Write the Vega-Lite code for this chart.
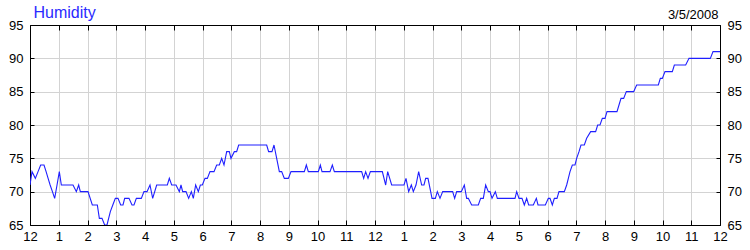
{
  "$schema": "https://vega.github.io/schema/vega-lite/v6.json",
  "width": 690,
  "height": 200,
  "autosize": "none",
  "padding": {"left": 30, "top": 25, "right": 30, "bottom": 25},
  "background": "white",
  "config": {
    "view": {"stroke": null},
    "axis": {
      "labelFont": "Liberation Sans",
      "labelFontSize": 13,
      "labelColor": "#000000",
      "domainColor": "#000000",
      "tickColor": "#000000",
      "gridColor": "#d3d3d3",
      "gridOpacity": 1,
      "labelFlush": false,
      "labelOverlap": false
    }
  },
  "data": {"values": [
    {"h": 0, "v": 71}, {"h": 0.07, "v": 73}, {"h": 0.186, "v": 72}, {"h": 0.28, "v": 73}, {"h": 0.371, "v": 74},
    {"h": 0.487, "v": 74}, {"h": 0.56, "v": 73}, {"h": 0.63, "v": 72}, {"h": 0.7, "v": 71}, {"h": 0.78, "v": 70},
    {"h": 0.858, "v": 69}, {"h": 0.94, "v": 71}, {"h": 1.02, "v": 73}, {"h": 1.09, "v": 71}, {"h": 1.496, "v": 71},
    {"h": 1.612, "v": 70}, {"h": 1.693, "v": 71}, {"h": 1.751, "v": 70}, {"h": 2.017, "v": 70}, {"h": 2.168, "v": 68},
    {"h": 2.342, "v": 68}, {"h": 2.412, "v": 66}, {"h": 2.504, "v": 66}, {"h": 2.597, "v": 65}, {"h": 2.678, "v": 65},
    {"h": 2.794, "v": 67}, {"h": 2.88, "v": 68}, {"h": 2.968, "v": 69}, {"h": 3.061, "v": 69}, {"h": 3.154, "v": 68},
    {"h": 3.235, "v": 68}, {"h": 3.293, "v": 69}, {"h": 3.443, "v": 69}, {"h": 3.548, "v": 68}, {"h": 3.617, "v": 68},
    {"h": 3.699, "v": 69}, {"h": 3.872, "v": 69}, {"h": 3.965, "v": 70}, {"h": 4.07, "v": 70}, {"h": 4.174, "v": 71},
    {"h": 4.267, "v": 69}, {"h": 4.406, "v": 71}, {"h": 4.777, "v": 71}, {"h": 4.846, "v": 72}, {"h": 4.928, "v": 71},
    {"h": 5.078, "v": 71}, {"h": 5.194, "v": 70}, {"h": 5.252, "v": 71}, {"h": 5.31, "v": 70}, {"h": 5.426, "v": 70},
    {"h": 5.519, "v": 69}, {"h": 5.612, "v": 70}, {"h": 5.681, "v": 69}, {"h": 5.762, "v": 71}, {"h": 5.855, "v": 70},
    {"h": 5.925, "v": 71}, {"h": 5.994, "v": 71}, {"h": 6.087, "v": 72}, {"h": 6.168, "v": 72}, {"h": 6.261, "v": 73},
    {"h": 6.4, "v": 73}, {"h": 6.493, "v": 74}, {"h": 6.586, "v": 74}, {"h": 6.667, "v": 75}, {"h": 6.748, "v": 74},
    {"h": 6.841, "v": 76}, {"h": 6.933, "v": 76}, {"h": 6.991, "v": 75}, {"h": 7.107, "v": 76}, {"h": 7.188, "v": 76},
    {"h": 7.258, "v": 77}, {"h": 8.232, "v": 77}, {"h": 8.3, "v": 76}, {"h": 8.417, "v": 76}, {"h": 8.487, "v": 77},
    {"h": 8.58, "v": 75}, {"h": 8.673, "v": 73}, {"h": 8.754, "v": 73}, {"h": 8.846, "v": 72}, {"h": 8.986, "v": 72},
    {"h": 9.078, "v": 73}, {"h": 9.542, "v": 73}, {"h": 9.612, "v": 74}, {"h": 9.681, "v": 73}, {"h": 10.029, "v": 73},
    {"h": 10.099, "v": 74}, {"h": 10.157, "v": 73}, {"h": 10.435, "v": 73}, {"h": 10.516, "v": 74}, {"h": 10.586, "v": 73},
    {"h": 11.536, "v": 73}, {"h": 11.606, "v": 72}, {"h": 11.675, "v": 73}, {"h": 11.757, "v": 72}, {"h": 11.838, "v": 73},
    {"h": 12.255, "v": 73}, {"h": 12.371, "v": 71}, {"h": 12.441, "v": 73}, {"h": 12.58, "v": 71}, {"h": 13.009, "v": 71},
    {"h": 13.078, "v": 72}, {"h": 13.171, "v": 70}, {"h": 13.264, "v": 71}, {"h": 13.333, "v": 70}, {"h": 13.426, "v": 71},
    {"h": 13.519, "v": 73}, {"h": 13.623, "v": 71}, {"h": 13.704, "v": 71}, {"h": 13.762, "v": 72}, {"h": 13.843, "v": 72},
    {"h": 13.936, "v": 70}, {"h": 13.983, "v": 69}, {"h": 14.099, "v": 69}, {"h": 14.168, "v": 70}, {"h": 14.261, "v": 69},
    {"h": 14.354, "v": 70}, {"h": 14.701, "v": 70}, {"h": 14.771, "v": 69}, {"h": 14.841, "v": 70}, {"h": 15.003, "v": 70},
    {"h": 15.107, "v": 71}, {"h": 15.188, "v": 69}, {"h": 15.246, "v": 69}, {"h": 15.362, "v": 68}, {"h": 15.594, "v": 68},
    {"h": 15.675, "v": 69}, {"h": 15.768, "v": 69}, {"h": 15.849, "v": 71}, {"h": 15.942, "v": 70}, {"h": 16.0, "v": 70},
    {"h": 16.07, "v": 69}, {"h": 16.186, "v": 70}, {"h": 16.255, "v": 69}, {"h": 16.87, "v": 69}, {"h": 16.928, "v": 70},
    {"h": 17.009, "v": 69}, {"h": 17.113, "v": 69}, {"h": 17.194, "v": 68}, {"h": 17.275, "v": 69}, {"h": 17.345, "v": 68},
    {"h": 17.507, "v": 68}, {"h": 17.612, "v": 69}, {"h": 17.67, "v": 68}, {"h": 17.925, "v": 68}, {"h": 18.029, "v": 69},
    {"h": 18.087, "v": 69}, {"h": 18.168, "v": 68}, {"h": 18.238, "v": 69}, {"h": 18.33, "v": 69}, {"h": 18.4, "v": 70},
    {"h": 18.585, "v": 70}, {"h": 18.667, "v": 71}, {"h": 18.725, "v": 72}, {"h": 18.783, "v": 73}, {"h": 18.864, "v": 74},
    {"h": 18.957, "v": 74}, {"h": 19.014, "v": 75}, {"h": 19.096, "v": 76}, {"h": 19.165, "v": 77}, {"h": 19.281, "v": 77},
    {"h": 19.362, "v": 78}, {"h": 19.501, "v": 79}, {"h": 19.675, "v": 79}, {"h": 19.745, "v": 80}, {"h": 19.826, "v": 80},
    {"h": 19.907, "v": 81}, {"h": 20.0, "v": 81}, {"h": 20.07, "v": 82}, {"h": 20.417, "v": 82}, {"h": 20.487, "v": 83},
    {"h": 20.557, "v": 84}, {"h": 20.649, "v": 84}, {"h": 20.742, "v": 85}, {"h": 20.997, "v": 85}, {"h": 21.101, "v": 86},
    {"h": 21.855, "v": 86}, {"h": 21.925, "v": 87}, {"h": 21.994, "v": 87}, {"h": 22.087, "v": 88}, {"h": 22.342, "v": 88},
    {"h": 22.412, "v": 89}, {"h": 22.806, "v": 89}, {"h": 22.922, "v": 90}, {"h": 23.664, "v": 90}, {"h": 23.757, "v": 91},
    {"h": 24.0, "v": 91}
  ]},
  "layer": [
    {
      "mark": {"type": "line", "color": "#1f1fff", "strokeWidth": 1.1, "clip": true},
      "encoding": {
        "x": {"field": "h", "type": "quantitative",
          "scale": {"domain": [0, 24], "nice": false, "zero": false},
          "axis": {"orient": "bottom", "title": null,
            "values": [0,1,2,3,4,5,6,7,8,9,10,11,12,13,14,15,16,17,18,19,20,21,22,23,24],
            "labelExpr": "datum.value % 12 == 0 ? '12' : '' + (datum.value % 12)",
            "grid": true, "tickSize": -5, "labelPadding": 10, "labelAlign": "center"}},
        "y": {"field": "v", "type": "quantitative",
          "scale": {"domain": [65, 95], "nice": false, "zero": false},
          "axis": {"orient": "left", "title": null, "values": [65,70,75,80,85,90,95],
            "grid": true, "tickSize": -4, "labelPadding": 11}}
      }
    },
    {
      "mark": {"type": "line", "strokeOpacity": 0},
      "encoding": {
        "x": {"field": "h", "type": "quantitative",
          "scale": {"domain": [0, 24], "nice": false, "zero": false},
          "axis": {"orient": "top",
            "title": "Humidity", "titleX": 3, "titleY": -8, "titleAlign": "left", "titleAnchor": null,
            "titleBaseline": "alphabetic", "titleFont": "Liberation Sans", "titleFontSize": 16,
            "titleFontWeight": "normal", "titleColor": "#2a2aff",
            "values": [0,1,2,3,4,5,6,7,8,9,10,11,12,13,14,15,16,17,18,19,20,21,22,23,24],
            "labelExpr": "datum.value == 24 ? '3/5/2008' : ''",
            "labelAlign": "right", "labelOffset": -2, "labelBaseline": "alphabetic",
            "labelPadding": 12, "grid": false, "tickSize": -5}},
        "y": {"field": "v", "type": "quantitative",
          "scale": {"domain": [65, 95], "nice": false, "zero": false},
          "axis": {"orient": "right", "title": null, "values": [65,70,75,80,85,90,95],
            "grid": false, "tickSize": -4, "labelPadding": 11}}
      }
    }
  ],
  "resolve": {"axis": {"x": "independent", "y": "independent"}}
}
